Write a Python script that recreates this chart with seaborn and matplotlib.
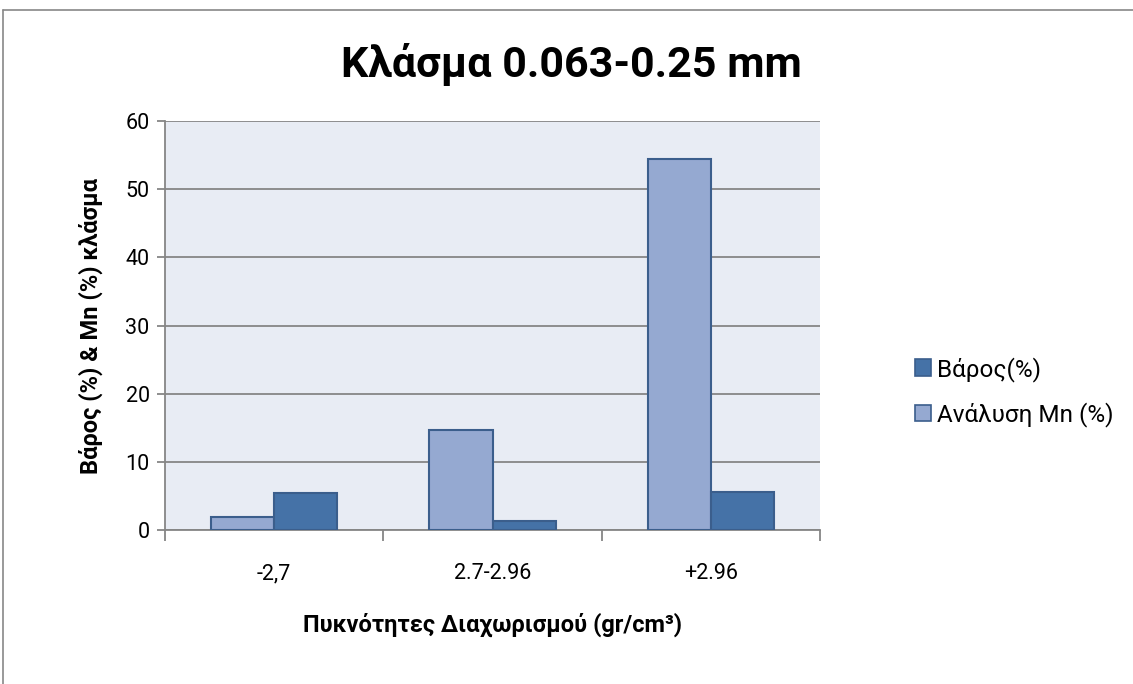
import matplotlib
matplotlib.use("Agg")
import matplotlib.pyplot as plt
import seaborn as sns
import pandas as pd
from matplotlib.patches import Patch
from matplotlib.lines import Line2D

categories = ["-2,7", "2.7-2.96", "+2.96"]
mn_analysis = [1.97, 14.6, 54.4]
weight = [5.42, 1.33, 5.57]
series_names = ["Ανάλυση Mn (%)", "Βάρος(%)"]
yticks = [0, 10, 20, 30, 40, 50, 60]

df = pd.DataFrame({
    "cat": categories * 2,
    "val": mn_analysis + weight,
    "series": [series_names[0]] * 3 + [series_names[1]] * 3,
})

sns.set_theme(style="white")
plt.rcParams['font.family'] = ['Roboto', 'DejaVu Sans']

light = "#95A9D1"
dark = "#4572A7"
edge = "#3B5E8C"
grid = "#868686"

fig = plt.figure(figsize=(11.33, 6.84), dpi=100)
ax = fig.add_axes([165/1133, 1-530/684, (820-165)/1133, (530-121)/684])
ax.set_facecolor("#E8ECF4")

sns.barplot(data=df, x="cat", y="val", hue="series", order=categories,
            hue_order=series_names, palette=[light, dark], width=0.58,
            saturation=1, edgecolor=edge, linewidth=1.5, ax=ax,
            legend=False, zorder=3)

ax.set_ylim(0, 60)
ax.set_yticks(yticks)
ax.set_xlim(-0.5, 2.5)
ax.grid(axis="y", color=grid, linewidth=1.3, zorder=0)
ax.set_axisbelow(True)
for s in ["top", "right"]:
    ax.spines[s].set_visible(False)
for s in ["left", "bottom"]:
    ax.spines[s].set_color(grid)
    ax.spines[s].set_linewidth(1.3)

ax.tick_params(axis="y", which="major", length=6, color=grid, width=1.3,
               labelsize=15.5, pad=5, left=True, labelcolor="black")
ax.set_xticks([-0.5, 0.5, 1.5, 2.5], minor=True)
ax.tick_params(axis="x", which="minor", length=8, color=grid, width=1.3, bottom=True)
ax.tick_params(axis="x", which="major", length=0, labelsize=15.5, pad=24, labelcolor="black")

ax.set_xlabel("Πυκνότητες Διαχωρισμού (gr/cm³)", fontsize=17, fontweight="bold",
              labelpad=20, color="black")
ax.set_ylabel("Βάρος (%) & Mn (%) κλάσμα", fontsize=17, fontweight="bold",
              labelpad=16, color="black")

fig.text(571/1133, 1-65/684, "Κλάσμα 0.063-0.25 mm", fontsize=31, fontweight="bold",
         ha="center", va="center", color="black")

handles = [Patch(facecolor=dark, edgecolor=edge, linewidth=1.2, label=series_names[1]),
           Patch(facecolor=light, edgecolor=edge, linewidth=1.2, label=series_names[0])]
fig.legend(handles=handles, loc="center left", bbox_to_anchor=(893/1133, 1-392/684),
           frameon=False, fontsize=17.5, handlelength=0.66, handleheight=0.66,
           handletextpad=0.25, labelspacing=0.85, labelcolor="black")

fig.add_artist(Line2D([3/1133, 1], [1-10/684, 1-10/684], color="#888888", linewidth=1.2,
                      transform=fig.transFigure))
fig.add_artist(Line2D([3/1133, 3/1133], [0, 1-10/684], color="#888888", linewidth=1.2,
                      transform=fig.transFigure))

fig.savefig("out.png", dpi=100)
